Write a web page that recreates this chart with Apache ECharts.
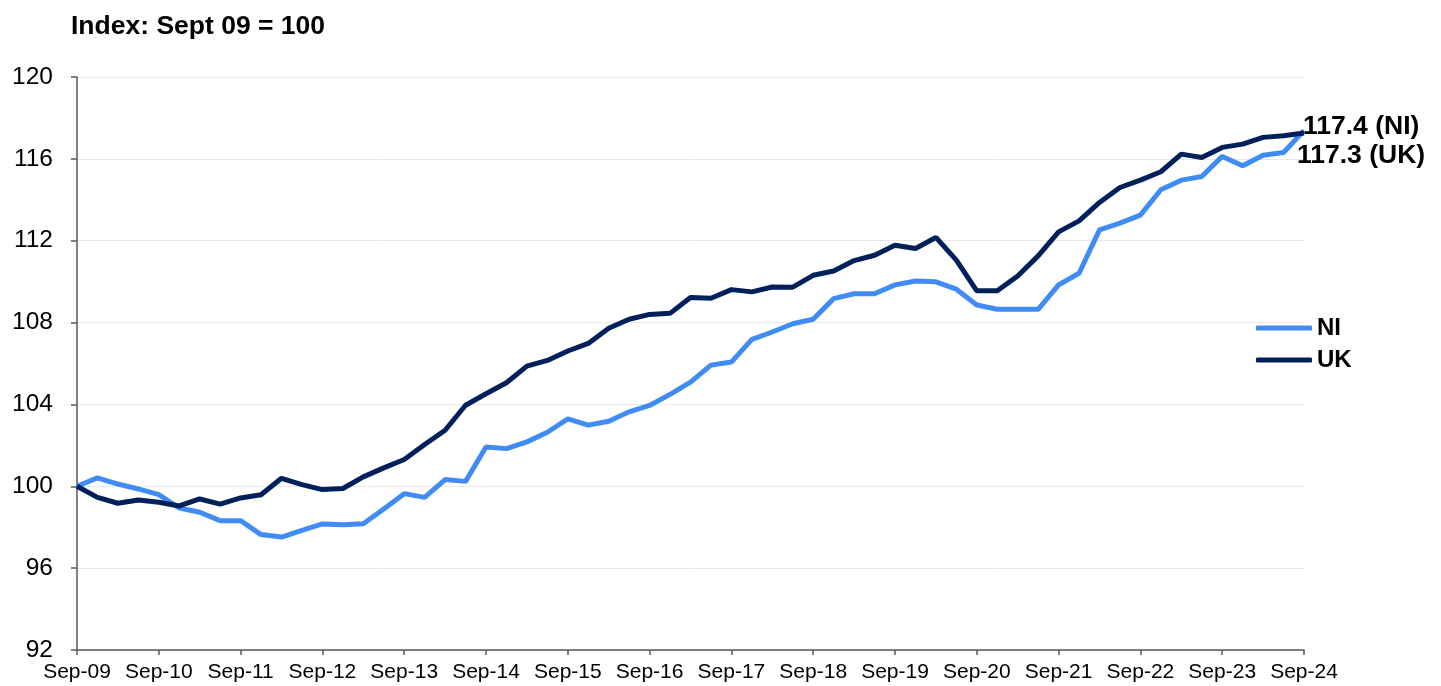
<!DOCTYPE html>
<html>
<head>
<meta charset="utf-8">
<script src="https://cdn.jsdelivr.net/npm/echarts@6/dist/echarts.min.js"></script>
<style>
  html, body { margin: 0; padding: 0; background: #fff; }
  #chart { width: 1441px; height: 686px; }
</style>
</head>
<body>
<div id="chart"></div>
<script>
// quarterly, Sep-09 .. Sep-24
const quarters = [
  'Sep-09', 'Dec-09', 'Mar-10', 'Jun-10', 'Sep-10', 'Dec-10', 'Mar-11', 'Jun-11',
  'Sep-11', 'Dec-11', 'Mar-12', 'Jun-12', 'Sep-12', 'Dec-12', 'Mar-13', 'Jun-13',
  'Sep-13', 'Dec-13', 'Mar-14', 'Jun-14', 'Sep-14', 'Dec-14', 'Mar-15', 'Jun-15',
  'Sep-15', 'Dec-15', 'Mar-16', 'Jun-16', 'Sep-16', 'Dec-16', 'Mar-17', 'Jun-17',
  'Sep-17', 'Dec-17', 'Mar-18', 'Jun-18', 'Sep-18', 'Dec-18', 'Mar-19', 'Jun-19',
  'Sep-19', 'Dec-19', 'Mar-20', 'Jun-20', 'Sep-20', 'Dec-20', 'Mar-21', 'Jun-21',
  'Sep-21', 'Dec-21', 'Mar-22', 'Jun-22', 'Sep-22', 'Dec-22', 'Mar-23', 'Jun-23',
  'Sep-23', 'Dec-23', 'Mar-24', 'Jun-24', 'Sep-24'
]

const niValues = [
  100, 100.41, 100.11, 99.87, 99.59, 98.94, 98.73, 98.32,
  98.32, 97.64, 97.52, 97.85, 98.16, 98.12, 98.17, 98.89,
  99.64, 99.46, 100.33, 100.24, 101.92, 101.84, 102.17, 102.64,
  103.29, 102.99, 103.18, 103.64, 103.95, 104.49, 105.09, 105.92,
  106.07, 107.18, 107.54, 107.94, 108.16, 109.17, 109.41, 109.41,
  109.84, 110.03, 109.99, 109.63, 108.86, 108.65, 108.65, 108.65,
  109.84, 110.41, 112.53, 112.86, 113.25, 114.49, 114.96, 115.14,
  116.12, 115.66, 116.18, 116.31, 117.38
]

const ukValues = [
  100, 99.46, 99.17, 99.33, 99.22, 99.04, 99.38, 99.13,
  99.43, 99.59, 100.39, 100.08, 99.84, 99.89, 100.46, 100.90,
  101.31, 102.04, 102.74, 103.96, 104.52, 105.06, 105.87, 106.15,
  106.61, 106.98, 107.72, 108.16, 108.40, 108.45, 109.22, 109.19,
  109.61, 109.50, 109.74, 109.73, 110.31, 110.52, 111.03, 111.29,
  111.78, 111.62, 112.16, 111.05, 109.55, 109.55, 110.28, 111.26,
  112.43, 112.97, 113.87, 114.60, 114.96, 115.37, 116.23, 116.07,
  116.56, 116.72, 117.05, 117.13, 117.26
]

const font = 'Liberation Sans, Arial, sans-serif'

let chart = echarts.init(document.getElementById('chart'))

function endText(name) {
  return function (p) {
    let v = Array.isArray(p.value) ? p.value[1] : p.value
    return v.toFixed(1) + ' (' + name + ')'
  }
}

chart.setOption({
  animation: false,
  title: {
    text: 'Index: Sept 09 = 100',
    left: 71,
    top: 13,
    padding: 0,
    textStyle: {
      fontFamily: font,
      fontSize: 26.5,
      fontWeight: 'bold',
      color: '#000'
    }
  },
  legend: {
    orient: 'vertical',
    left: 1256,
    top: 316,
    padding: 0,
    itemGap: 8,
    itemWidth: 56,
    itemHeight: 5,
    icon: 'roundRect',
    data: ['NI', 'UK'],
    textStyle: {
      fontFamily: font,
      fontSize: 24,
      fontWeight: 'bold',
      color: '#000',
      lineHeight: 24
    }
  },
  grid: {
    left: 77,
    right: 137,
    top: 77,
    bottom: 36
  },
  xAxis: {
    type: 'category',
    data: quarters,
    boundaryGap: false,
    axisLine: {
      lineStyle: { color: '#595959', width: 1.5 }
    },
    axisTick: {
      show: true,
      interval: 3,
      length: 5,
      lineStyle: { color: '#595959', width: 1.5 }
    },
    axisLabel: {
      interval: 3,
      margin: 12,
      fontFamily: font,
      fontSize: 21,
      color: '#000'
    },
    splitLine: { show: false }
  },
  yAxis: {
    type: 'value',
    min: 92,
    max: 120,
    interval: 4,
    axisLine: {
      show: true,
      lineStyle: { color: '#595959', width: 1.5 }
    },
    axisTick: {
      show: true,
      length: 6,
      lineStyle: { color: '#595959', width: 1.5 }
    },
    axisLabel: {
      margin: 24,
      fontFamily: font,
      fontSize: 24.5,
      color: '#000'
    },
    splitLine: {
      lineStyle: { color: '#e8e8e8', width: 1 }
    }
  },
  series: [
    {
      name: 'NI',
      type: 'line',
      data: niValues,
      symbol: 'none',
      color: '#418cf4',
      lineStyle: { width: 5, color: '#418cf4' },
      endLabel: {
        show: true,
        formatter: endText('NI'),
        distance: 0,
        offset: [-1, -4],
        fontFamily: font,
        fontSize: 26.5,
        fontWeight: 'bold',
        color: '#000'
      }
    },
    {
      name: 'UK',
      type: 'line',
      data: ukValues,
      symbol: 'none',
      color: '#00205b',
      lineStyle: { width: 5, color: '#00205b' },
      endLabel: {
        show: true,
        formatter: endText('UK'),
        distance: 0,
        offset: [-7, 23],
        fontFamily: font,
        fontSize: 26.5,
        fontWeight: 'bold',
        color: '#000'
      }
    }
  ]
})
</script>
</body>
</html>
